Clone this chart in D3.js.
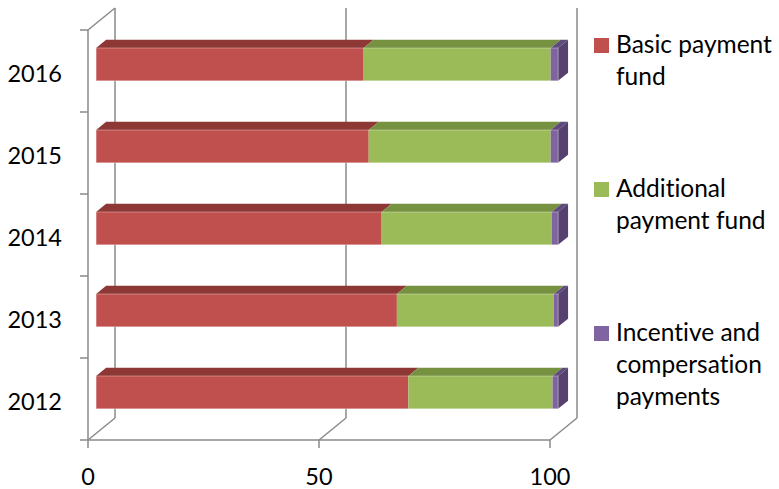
<!DOCTYPE html>
<html><head><meta charset="utf-8">
<script src="https://cdn.jsdelivr.net/npm/d3@7"></script>
<style>body{margin:0;background:#fff}svg{display:block}text{font-family:Lato,"Open Sans",sans-serif;fill:#000;font-variant-ligatures:none;font-feature-settings:"liga" 0,"clig" 0}</style>
</head><body><svg id="c" width="779" height="489"></svg>
<script>
const categories = ["2012","2013","2014","2015","2016"];
const seriesNames = ["Basic payment fund","Additional payment fund","Incentive and compersation payments"];
const basic      = [67.6, 65.1, 61.8, 59.0, 57.9];
const additional = [31.2, 34.0, 36.8, 39.4, 40.5];
const incentive  = [1.2, 0.9, 1.4, 1.6, 1.6];
const xTicks = [0, 50, 100];
const legendLines = [["Basic payment","fund"],["Additional","payment fund"],["Incentive and","compersation","payments"]];

const frontCol = ["#C0504D","#9BBB59","#8064A2"];
const topCol   = ["#8E3836","#76913F","#5E4A7C"];
const sideCol  = "#554070";

const svg = d3.select("#c");
const x = d3.scaleLinear().domain([0,100]).range([88,550]);
const y = d3.scaleBand().domain(categories.slice().reverse()).range([30,440]).paddingInner(0.6).paddingOuter(0.3);
const DX = 27, DY = 22;
const P = (v, yy, z) => [x(v) + z*DX, yy - z*DY];
const grid = "#8a8a8a";

const g = svg.append("g");
xTicks.forEach(t => {
  const [bx, by0] = P(t, 30, 1), [, by1] = P(t, 440, 1);
  g.append("line").attr("x1",bx).attr("x2",bx).attr("y1",by0).attr("y2",by1).attr("stroke",grid).attr("stroke-width",1.5);
  const [fx, fy] = P(t, 440, 0);
  g.append("line").attr("x1",fx).attr("y1",fy).attr("x2",bx).attr("y2",by1).attr("stroke",grid).attr("stroke-width",1.5);
  g.append("line").attr("x1",fx).attr("x2",fx).attr("y1",440).attr("y2",448).attr("stroke",grid).attr("stroke-width",1.5);
});
const [lx0, ly0] = P(0, 30, 0), [lx1, ly1] = P(0, 30, 1);
g.append("line").attr("x1",lx0).attr("y1",ly0).attr("x2",lx1).attr("y2",ly1).attr("stroke",grid).attr("stroke-width",1.5);
g.append("line").attr("x1",x(0)).attr("x2",x(0)).attr("y1",30).attr("y2",440).attr("stroke",grid).attr("stroke-width",1.5);
g.append("line").attr("x1",x(0)).attr("x2",x(100)).attr("y1",440).attr("y2",440).attr("stroke",grid).attr("stroke-width",1.5);
const step = y.step();
d3.range(categories.length + 1).forEach(i => {
  const yy = 30 + i*step;
  g.append("line").attr("x1",x(0)-8).attr("x2",x(0)).attr("y1",yy).attr("y2",yy).attr("stroke",grid).attr("stroke-width",1.5);
});

const z0 = 0.3, z1 = 0.67;
const data = categories.map((c,i) => ({cat:c, vals:[basic[i], additional[i], incentive[i]]}));
data.forEach(d => {
  const yt = y(d.cat), yb = y(d.cat) + y.bandwidth();
  let start = 0;
  d.vals.forEach((v, s) => {
    const end = start + v;
    const a = P(start, yt, z0), b = P(end, yt, z0), c = P(end, yt, z1), e = P(start, yt, z1);
    g.append("polygon").attr("points",[a,b,c,e].map(p=>p.join(",")).join(" ")).attr("fill",topCol[s]);
    const f1 = P(start, yt, z0), f2 = P(end, yb, z0);
    g.append("rect").attr("x",f1[0]).attr("y",f1[1]).attr("width",f2[0]-f1[0]).attr("height",f2[1]-f1[1]).attr("fill",frontCol[s]);
    if (s === d.vals.length - 1) {
      const p1 = P(end, yt, z0), p2 = P(end, yt, z1), p3 = P(end, yb, z1), p4 = P(end, yb, z0);
      g.append("polygon").attr("points",[p1,p2,p3,p4].map(p=>p.join(",")).join(" ")).attr("fill",sideCol);
    }
    start = end;
  });
  const A = P(0, yt, z0), B = P(start, yb, z0);
  g.append("rect").attr("x",A[0]).attr("y",A[1]).attr("width",B[0]-A[0]).attr("height",B[1]-A[1]).attr("fill","none").attr("stroke","rgba(255,255,255,0.35)").attr("stroke-width",1);
});

xTicks.forEach(t => {
  g.append("text").attr("x",x(t)).attr("y",485).attr("text-anchor","middle").attr("font-size",23.5).text(t);
});
categories.forEach(c => {
  g.append("text").attr("x",62).attr("y",y(c)+27).attr("text-anchor","end").attr("font-size",23.5).text(c);
});

const legTop = [38, 182, 326];
seriesNames.forEach((n, i) => {
  const lg = svg.append("g");
  lg.append("rect").attr("x",594).attr("y",legTop[i]).attr("width",15).attr("height",15).attr("fill",frontCol[i]);
  legendLines[i].forEach((ln, j) => {
    lg.append("text").attr("x",616).attr("y",legTop[i]+15+j*32).attr("font-size",24.5).text(ln);
  });
});
</script></body></html>
